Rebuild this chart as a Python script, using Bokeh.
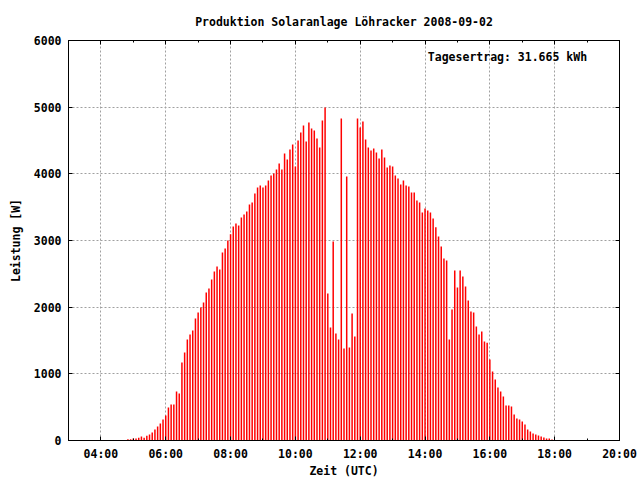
from bokeh.plotting import figure
from bokeh.models import FixedTicker, LinearAxis, Label, Range1d, ColumnDataSource
from bokeh.embed import file_html
from bokeh.resources import INLINE

title_text = "Produktion Solaranlage Löhracker 2008-09-02"
x_title = "Zeit (UTC)"
y_title = "Leistung [W]"
yield_text = "Tagesertrag: 31.665 kWh"

# Power readings [W], one every 5 minutes, grouped by hour (first group starts 04:50)
first_hour, first_minute, step_minutes = 4, 50, 5
p_04 = [20, 20]
p_05 = [30, 30, 40, 60, 40, 70, 90, 120, 165, 210, 255, 315]
p_06 = [375, 495, 540, 540, 735, 705, 1170, 1320, 1515, 1590, 1650, 1830]
p_07 = [1920, 1995, 2070, 2220, 2280, 2415, 2535, 2610, 2565, 2820, 2880, 3000]
p_08 = [3095, 3210, 3255, 3225, 3345, 3390, 3435, 3540, 3570, 3705, 3795, 3825]
p_09 = [3795, 3825, 3900, 3975, 4005, 4065, 4155, 4065, 4305, 4215, 4365, 4440]
p_10 = [4110, 4500, 4620, 4725, 4485, 4770, 4680, 4650, 4530, 4395, 4800, 4995]
p_11 = [2205, 1695, 2985, 1605, 1515, 4830, 1380, 3960, 1395, 1905, 1560, 4830]
p_12 = [4695, 4785, 4515, 4395, 4350, 4380, 4320, 4230, 4365, 4245, 4095, 4125]
p_13 = [4110, 3975, 3930, 3840, 3900, 3825, 3810, 3720, 3720, 3600, 3570, 3420]
p_14 = [3480, 3450, 3420, 3330, 3200, 3060, 2910, 2730, 2700, 1515, 1965, 2550]
p_15 = [2295, 2550, 2460, 2310, 2100, 1935, 1920, 1710, 1590, 1635, 1485, 1465]
p_16 = [1215, 1035, 915, 795, 735, 660, 525, 525, 510, 390, 330, 315]
p_17 = [285, 240, 165, 135, 105, 90, 75, 60, 45, 30, 30, 15]

x_major = [4, 6, 8, 10, 12, 14, 16, 18, 20]
x_minor = list(range(3, 21))
y_major = [0, 1000, 2000, 3000, 4000, 5000, 6000]

power = p_04 + p_05 + p_06 + p_07 + p_08 + p_09 + p_10 + p_11 + p_12 + p_13 + p_14 + p_15 + p_16 + p_17
times = [first_hour + (first_minute + step_minutes * i) / 60.0 for i in range(len(power))]
src = ColumnDataSource(dict(t=times, p=power, z=[0] * len(power)))

FONT = "DejaVu Sans Mono"
FS = "11.5px"

p = figure(width=640, height=480, output_backend="svg", toolbar_location=None,
           x_range=Range1d(3, 20), y_range=Range1d(0, 6000),
           min_border_left=68, min_border_right=21, min_border_top=40, min_border_bottom=40,
           title=title_text, background_fill_color="white", border_fill_color="white")

p.title.align = "center"
p.title.text_font = FONT
p.title.text_font_size = FS
p.title.text_font_style = "bold"
p.title.text_color = "black"
p.title.standoff = 24

p.outline_line_color = "black"
p.outline_line_width = 1
p.outline_line_alpha = 1

xt = FixedTicker(ticks=x_major, minor_ticks=x_minor)
yt = FixedTicker(ticks=y_major, minor_ticks=[])

for ax in p.xaxis:
    ax.ticker = xt
    ax.major_label_overrides = {h: "%02d:00" % h for h in x_major}
    ax.major_label_standoff = 6
    ax.axis_label = x_title
    ax.axis_label_standoff = 0
for ax in p.yaxis:
    ax.ticker = yt
    ax.major_label_standoff = 7
    ax.axis_label = y_title
    ax.axis_label_standoff = 8

for ax in list(p.xaxis) + list(p.yaxis):
    ax.major_label_text_font = FONT
    ax.major_label_text_font_size = FS
    ax.major_label_text_font_style = "bold"
    ax.major_label_text_color = "black"
    ax.axis_label_text_font = FONT
    ax.axis_label_text_font_size = FS
    ax.axis_label_text_font_style = "bold"
    ax.axis_label_text_color = "black"
    ax.axis_line_color = "black"
    ax.major_tick_line_color = "black"
    ax.minor_tick_line_color = "black"
    ax.major_tick_in = 4
    ax.major_tick_out = 0
    ax.minor_tick_in = 2
    ax.minor_tick_out = 0

top = LinearAxis(ticker=xt, major_label_overrides={h: "" for h in x_major}, major_label_standoff=0,
                 major_label_text_font_size="1px",
                 major_tick_in=4, major_tick_out=0, minor_tick_in=2, minor_tick_out=0,
                 axis_line_color="black", major_tick_line_color="black", minor_tick_line_color="black")
right = LinearAxis(ticker=yt, major_label_overrides={v: "" for v in y_major}, major_label_standoff=0,
                   major_label_text_font_size="1px",
                   major_tick_in=4, major_tick_out=0, minor_tick_in=0, minor_tick_out=0,
                   axis_line_color="black", major_tick_line_color="black")
p.add_layout(top, "above")
p.add_layout(right, "right")

for g in (p.xgrid, p.ygrid):
    g.grid_line_color = "#a0a0a0"
    g.grid_line_dash = "2 2"
    g.grid_line_width = 1
p.xgrid.ticker = FixedTicker(ticks=x_major[:-1])
p.ygrid.ticker = FixedTicker(ticks=y_major[1:-1])

p.segment(x0="t", y0="z", x1="t", y1="p", source=src, line_color="#ff0000", line_width=1.5)

p.add_layout(Label(x=19.0, y=5760, text=yield_text, text_align="right", text_baseline="middle",
                   text_font=FONT, text_font_size=FS, text_font_style="bold", text_color="black"))

open("out.html", "w").write(file_html(p, INLINE))
